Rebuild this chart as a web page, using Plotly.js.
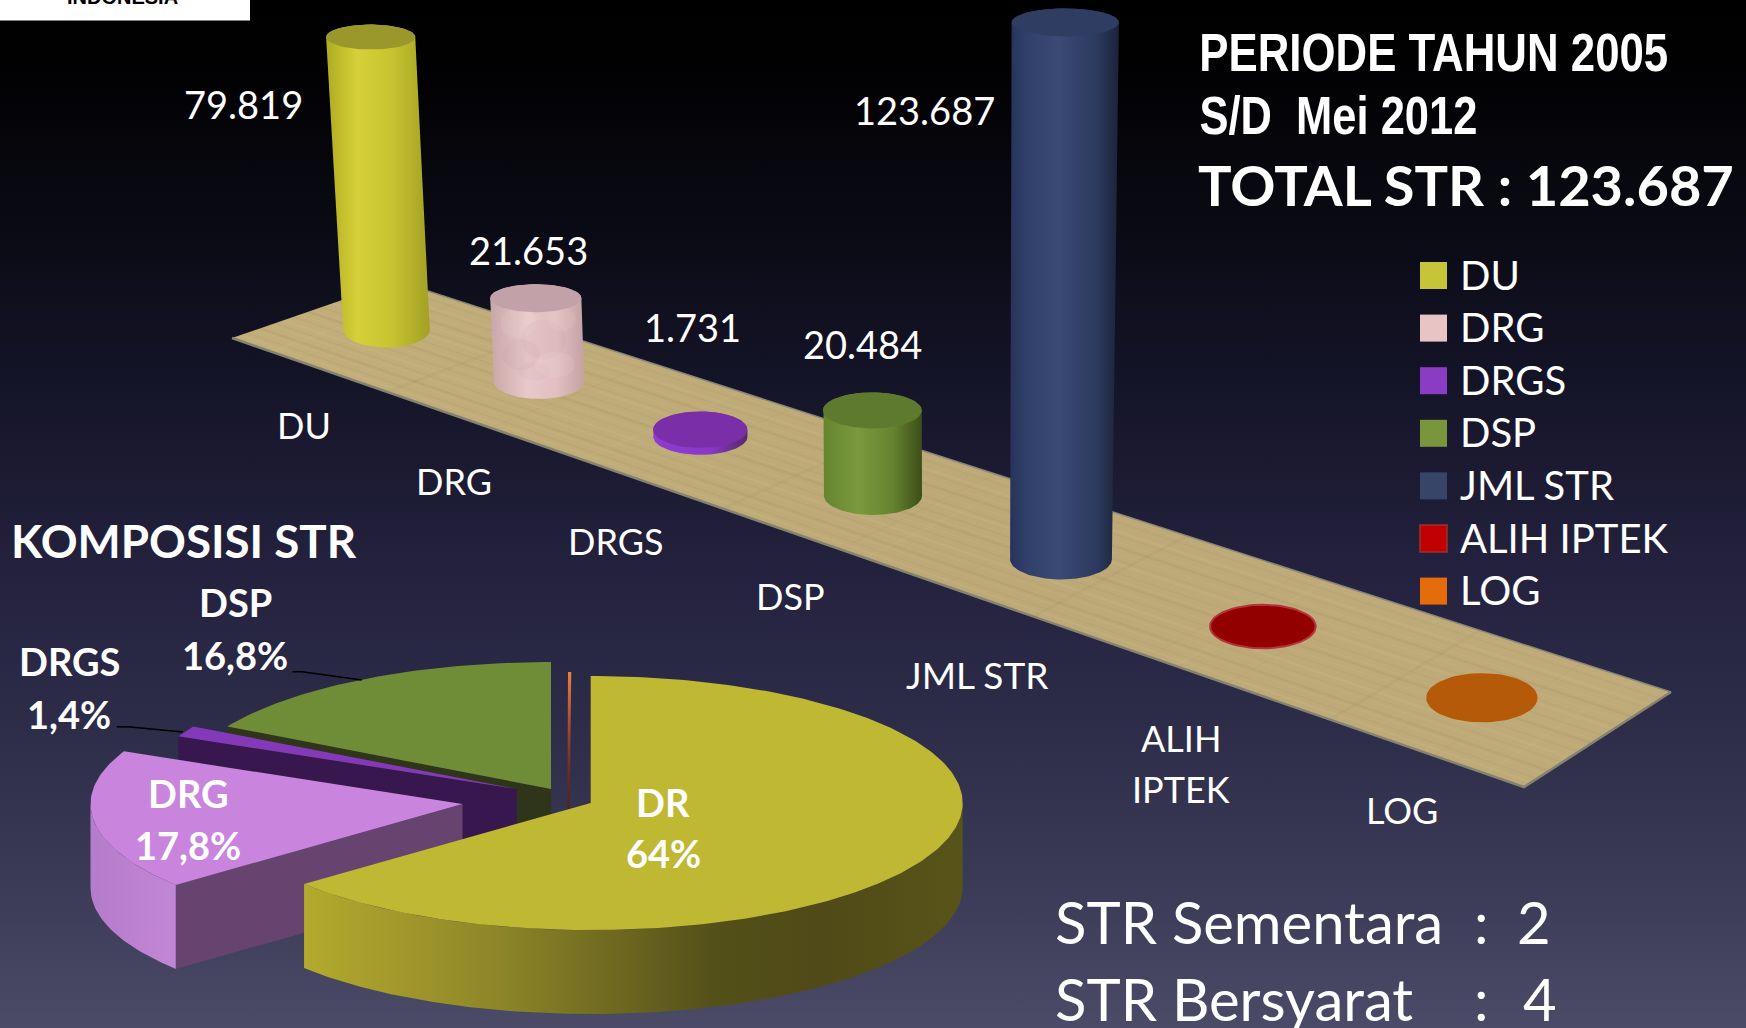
<!DOCTYPE html>
<html><head><meta charset="utf-8">
<script src="https://cdn.plot.ly/plotly-3.0.1.min.js"></script>
<style>html,body{margin:0;padding:0;background:#000;overflow:hidden}#c{width:1746px;height:1028px}</style>
</head><body><div id="c"></div>
<script>
// ---- data ----
const categories = ['DU','DRG','DRGS','DSP','JML STR','ALIH IPTEK','LOG'];
const axisLabels = ['DU','DRG','DRGS','DSP','JML STR','ALIH','IPTEK','LOG'];
const strValues  = [79819,21653,1731,20484,123687,0,0];
const valueTexts = ['79.819','21.653','1.731','20.484','123.687'];
const pieLabels  = ['DR','DRG','DRGS','DSP'];
const pieValues  = [64,17.8,1.4,16.8];
const pieTexts   = ['DR','64%','DRG','17,8%','DRGS','1,4%','DSP','16,8%'];
const sliverValue = 0.14;
const noteLabels = ['STR Sementara','STR Bersyarat'];
const noteValues = [2,4];

// ---- styling ----
const W=1746,H=1028;
const FONT='Lato, Carlito, "Open Sans", sans-serif';
const legendColors=['#c8c43a','#e8c4c4','#8a3cc4','#7a963c','#374668','#c00000','#e46c0a'];
const sideStops=[
 [[0,'#aeab22'],[.3,'#d6d138'],[.62,'#c8c431'],[1,'#a3a024']],
 [[0,'#c9a7a9'],[.4,'#e8c8c8'],[.7,'#e2bfc0'],[1,'#c4a2a4']],
 [[0,'#8f3bd1'],[.6,'#8a38c8'],[1,'#55286a']],
 [[0,'#65842f'],[.35,'#7a9a3c'],[.7,'#668430'],[1,'#3c4e18']],
 [[0,'#26345a'],[.15,'#30406a'],[.45,'#3a4a75'],[.8,'#2c3a5e'],[1,'#1b2338']]
];
const topColors=['#9a982a','#c2a2a8','#7a2fa8','#5d7a2f','#2f3d62'];
const topRy=[12.5,14,null,18,14];
const diskColors=[null,null,null,null,null,'#920000','#b45a08'];
const diskEdge=[null,null,null,null,null,'#b5343a','#b45a08'];

const traces=[];
function poly(xs,ys,fill,grad){
  const t={type:'scatter',mode:'lines',x:xs,y:ys,fill:'toself',line:{width:0,color:'rgba(0,0,0,0)'},hoverinfo:'skip',showlegend:false};
  if(grad) t.fillgradient=grad; else t.fillcolor=fill;
  traces.push(t);
}
function hgrad(stops,a,b){return {type:'horizontal',colorscale:stops,start:a,stop:b};}
function vgrad(stops,a,b){return {type:'vertical',colorscale:stops,start:a,stop:b};}
function arc(cx,cy,rx,ry,a0,a1,n){ // degrees clockwise from 12 o'clock
  const xs=[],ys=[];n=n||Math.max(4,Math.ceil(Math.abs(a1-a0)));
  for(let k=0;k<=n;k++){const a=(a0+(a1-a0)*k/n)*Math.PI/180;xs.push(cx+rx*Math.sin(a));ys.push(cy-ry*Math.cos(a));}
  return [xs,ys];
}

// background
poly([0,W,W,0,0],[0,0,H,H,0],null,vgrad([[0,'#000000'],[.06,'#010102'],[.2,'#090912'],[.34,'#121224'],[.55,'#23213d'],[.72,'#2f2e4a'],[.88,'#3d3d59'],[1,'#4b4b67']],0,H));

// floor of the 3D chart
const fA=[232,338],fB=[397,281],fC=[1671,692],fD=[1524,787];
function floorPt(u,v){ // u along length, v across
  const px=fA[0]+(fD[0]-fA[0])*u, py=fA[1]+(fD[1]-fA[1])*u, qx=fB[0]+(fC[0]-fB[0])*u, qy=fB[1]+(fC[1]-fB[1])*u;
  return [px+(qx-px)*v,py+(qy-py)*v];
}
poly([fA[0],fB[0],fC[0],fD[0],fA[0]],[fA[1],fB[1],fC[1],fD[1],fA[1]],null,hgrad([[0,'#c2ae7a'],[.5,'#bda977'],[1,'#bfab79']],232,1671));
[.05,.09,.14,.17,.23,.26,.31,.37,.41,.46,.49,.54,.61,.64,.69,.74,.78,.83,.86,.93,.96].forEach((v,j)=>{
  const a=floorPt(0,v),b=floorPt(1,v);
  traces.push({type:'scatter',mode:'lines',x:[a[0],b[0]],y:[a[1],b[1]],line:{width:j%3?1:2.5,color:j%2?'rgba(110,90,45,.07)':'rgba(235,220,170,.07)'},hoverinfo:'skip',showlegend:false});
});
[.03,.05,.09,.12,.18,.2,.27,.31,.33,.38,.44,.47,.49,.55,.6,.62,.66,.71,.73,.77,.82,.85,.88,.93,.97].forEach((u,j)=>{
  const a=floorPt(u,0),b=floorPt(u,1);
  traces.push({type:'scatter',mode:'lines',x:[a[0],b[0]],y:[a[1],b[1]],line:{width:j%3?1:3,color:j%2?'rgba(110,90,45,.05)':'rgba(235,220,170,.05)'},hoverinfo:'skip',showlegend:false});
});
traces.push({type:'scatter',mode:'lines',x:[fA[0],fD[0],fC[0]],y:[fA[1],fD[1],fC[1]],line:{width:2.5,color:'#85836f'},hoverinfo:'skip',showlegend:false});
traces.push({type:'scatter',mode:'lines',x:[fB[0],fC[0]],y:[fB[1],fC[1]],line:{width:1.5,color:'#8a8778'},hoverinfo:'skip',showlegend:false});

// cylinders: perspective of the chart's own category axis + value axis
const baseNudge=[0,0,0,0,1.8,1.5,0];
const baseX=i=>386.5+148.85*i+3.255*i*i+0.394*i*i*i+baseNudge[i];
const baseY=i=>330+49.3*i+2*i*i;
const baseRx=i=>43.3+1.9*i;
const baseRy=i=>17.5+0.17*i*i;
const pxPerUnit=i=>(3.67+0.1675*i)/1000;
const lean=i=>-0.054+0.0155*i;
strValues.forEach((v,i)=>{
  const bx=baseX(i),by=baseY(i),rx=baseRx(i),ry=baseRy(i);
  if(v===0){
    const [ex,ey]=arc(bx,by,rx,ry,0,360,72);
    traces.push({type:'scatter',mode:'lines',x:ex,y:ey,fill:'toself',fillcolor:diskColors[i],line:{width:2,color:diskEdge[i]},hoverinfo:'skip',showlegend:false});
    return;
  }
  const h=v*pxPerUnit(i),tx=bx+lean(i)*h,ty=by-h,trx=rx*(1+0.0001*h),tryy=topRy[i]||ry;
  const [bX,bY]=arc(bx,by,rx,ry,90,270,60);
  const [uX,uY]=arc(tx,ty,trx,tryy,270,450,60);
  poly(bX.concat(uX,[bX[0]]),bY.concat(uY,[bY[0]]),null,hgrad(sideStops[i],Math.min(bx-rx,tx-trx),Math.max(bx+rx,tx+trx)));
  if(i===1){ // soft mottling of the DRG cylinder
    [[-.45,.3,.4,15,'rgba(255,240,240,.09)'],[.1,.5,.5,20,'rgba(180,140,145,.08)'],[.5,.25,.32,12,'rgba(255,240,240,.08)'],
     [-.4,.68,.42,15,'rgba(180,140,145,.08)'],[.35,.8,.45,13,'rgba(255,240,240,.09)'],[-.1,.88,.35,9,'rgba(180,140,145,.07)']].forEach(b=>{
      const [mx,my]=arc(bx+b[0]*rx,by-h+h*b[1],b[2]*rx,b[3],0,360,24);
      poly(mx,my,b[4]);
    });
  }
  const [eX,eY]=arc(tx,ty,trx,tryy,0,360,72);
  poly(eX,eY,topColors[i]);
});

// exploded 3D pie
const pieRx=372,pieRy=127,pieDepth=84,pieDeg=3.6;
const pieApexX=[590.7,462.5,517,551],pieApexY=[803,804,789,789];
const sliverApex=[568,799];
function wedge(i,a0,a1,col){
  const [x,y]=arc(pieApexX[i],pieApexY[i],pieRx,pieRy,a0,a1);
  poly([pieApexX[i],...x,pieApexX[i]],[pieApexY[i],...y,pieApexY[i]],col);
}
function cutFace(i,a,col){
  const r=a*Math.PI/180,ox=pieApexX[i]+pieRx*Math.sin(r),oy=pieApexY[i]-pieRy*Math.cos(r);
  poly([ox,pieApexX[i],pieApexX[i],ox,ox],[oy,pieApexY[i],pieApexY[i]+pieDepth,oy+pieDepth,oy],col);
}
function outerSide(i,a0,a1,grad){
  const [x,y]=arc(pieApexX[i],pieApexY[i],pieRx,pieRy,a0,a1);
  const xb=x.slice().reverse(),yb=y.map(v=>v+pieDepth).reverse();
  poly([...x,...xb,x[0]],[...y,...yb,y[0]],null,grad);
}
const cum=[0];pieValues.forEach(v=>cum.push(cum[cum.length-1]+v));
const ang=cum.map(c=>c*pieDeg);
// DSP
cutFace(3,ang[3],'#2f3518'); wedge(3,ang[3],ang[4],'#6f8c36');
// sliver (other categories)
{const [x,y]=arc(sliverApex[0],sliverApex[1],pieRx,pieRy,0,sliverValue*pieDeg,2);
 poly([sliverApex[0]-.6,...x,sliverApex[0]+1.5,sliverApex[0]-.6],[sliverApex[1]+20,...y,sliverApex[1]+20,sliverApex[1]+20],null,vgrad([[0,'#ec7f3c'],[.45,'#94402a'],[.7,'#6a2a20'],[1,'#4e1c18']],672,819));}
// DRGS
cutFace(2,ang[2],'#38174f'); wedge(2,ang[2],ang[3],'#843ab8');
// DRG
outerSide(1,ang[1],270,hgrad([[0,'#b57ccb'],[1,'#c286d6']],90,176));
cutFace(1,ang[1],'#67436f');
wedge(1,ang[1],ang[2],'#c985dd');
// DR
outerSide(0,90,ang[1],hgrad([[0,'#b3aa2e'],[.3,'#8d8528'],[.62,'#545019'],[.78,'#4f4a17'],[1,'#585419']],304,963));
wedge(0,ang[0],ang[1],'#bfb833');

// leader lines
traces.push({type:'scatter',mode:'lines',x:[292.5,302,361.7],y:[671.7,671.7,680],line:{width:1.6,color:'#000'},hoverinfo:'skip',showlegend:false});
traces.push({type:'scatter',mode:'lines',x:[116.6,130.4,183],y:[726.7,727,732],line:{width:1.6,color:'#000'},hoverinfo:'skip',showlegend:false});

// legend swatches
const legY=i=>275.5+52.6*i;
categories.forEach((c,i)=>{
  traces.push({type:'scatter',mode:'markers',x:[1433.5],y:[legY(i)],name:c,showlegend:false,hoverinfo:'skip',
    marker:{symbol:'square',size:27,color:legendColors[i],line:{width:i===5?1.5:0,color:'#9c3030'}}});
});

// text
const ann=[];
function T(x,y,text,size,bold,anchor,family,color,yanchor){
  ann.push({xref:'x',yref:'y',x,y,text,showarrow:false,xanchor:anchor||'center',yanchor:yanchor||'middle',
    font:{family:family||FONT,size,color:color||'#fff',weight:bold?700:400},borderpad:0,align:'center'});
}
const axisLabelX=[304,454,616,790,977,1181,1181,1402],axisLabelY=[425,481,541,596,674,738,789,810];
axisLabels.forEach((l,i)=>T(axisLabelX[i],axisLabelY[i],l,i===4?37:36));
const valueX=[243,528,692,862,924],valueY=[103.5,249.5,327,343.5,109.5];
valueTexts.forEach((l,i)=>T(valueX[i],valueY[i],l,38));
const pieTextX=[663,663,188,188,69,69,235,235],pieTextY=[802,853,793,845,661,714,602,655];
pieTexts.forEach((l,i)=>T(pieTextX[i],pieTextY[i],l,38,true));
T(10,540,'KOMPOSISI STR',45.7,true,'left');
categories.forEach((c,i)=>T(1459,legY(i)-1,c,40,false,'left'));
const ARIAL='"Liberation Sans", Arial, sans-serif';
const titleLines=[['PERIODE TAHUN 2005',1433.5,52,469],['S/D  Mei 2012',1338,115,278]];
titleLines.forEach(t=>T(t[1],t[2],t[0],53,true,'center',ARIAL));
T(1197,184,'TOTAL STR : 123.687',56,true,'left');
noteLabels.forEach((l,i)=>{
  const y=[921,998][i];
  T(1054,y,l,58,false,'left');
  T(1481,y,':',58);
  T([1534,1540][i],y,String(noteValues[i]),58);
});
T(122,9,'INDONESIA',20,true,'center',ARIAL,'#000','bottom');

// white logo box
const shapes=[{type:'rect',xref:'x',yref:'y',x0:0,x1:250,y0:0,y1:20.5,fillcolor:'#fff',line:{width:0},layer:'above'}];

Plotly.newPlot('c',traces,{
  width:W,height:H,margin:{l:0,r:0,t:0,b:0,pad:0},showlegend:false,hovermode:false,
  paper_bgcolor:'#000',plot_bgcolor:'rgba(0,0,0,0)',
  xaxis:{range:[0,W],visible:false,fixedrange:true},
  yaxis:{range:[H,0],visible:false,fixedrange:true},
  shapes,annotations:ann
},{displayModeBar:false,staticPlot:true}).then(()=>{
  // the reference's headline is a condensed face: squeeze the real text to its width
  document.querySelectorAll('.annotation-text').forEach(el=>{
    const line=titleLines.find(t=>t[0].replace(/\s+/g,' ')===el.textContent.replace(/\s+/g,' '));
    if(line){el.setAttribute('textLength',line[3]);el.setAttribute('lengthAdjust','spacingAndGlyphs');}
  });
});
</script></body></html>
